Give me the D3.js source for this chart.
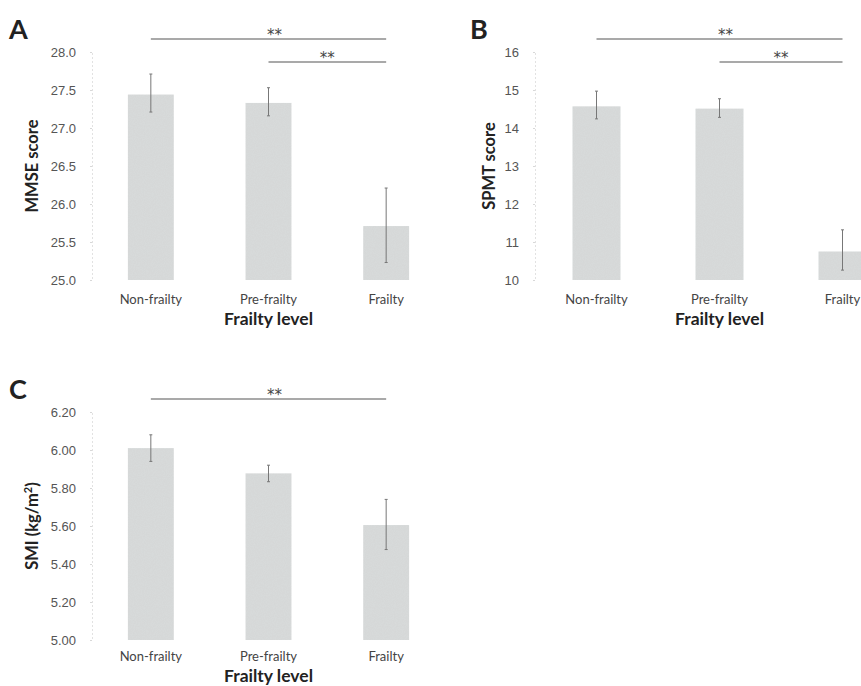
<!DOCTYPE html>
<html lang="en">
<head>
<meta charset="UTF-8">
<title>Frailty level charts</title>
<style>
  body { margin: 0; background: #fff; }
  svg { display: block; font-family: Lato, "Open Sans", sans-serif; }
</style>
</head>
<body>
<svg id="chart"></svg>
<script src="https://cdn.jsdelivr.net/npm/d3@7"></script>
<script>
const categories = ['Non-frailty', 'Pre-frailty', 'Frailty'];

// panel A - MMSE
const mmseMean = [27.44, 27.33, 25.71];
const mmseLow = [27.21, 27.16, 25.23];
const mmseHigh = [27.71, 27.53, 26.21];
const mmseTicks = [25.0, 25.5, 26.0, 26.5, 27.0, 27.5, 28.0];

// panel B - SPMT
const spmtMean = [14.57, 14.51, 10.75];
const spmtLow = [14.24, 14.28, 10.26];
const spmtHigh = [14.97, 14.77, 11.32];
const spmtTicks = [10, 11, 12, 13, 14, 15, 16];

// panel C - SMI
const smiMean = [6.01, 5.877, 5.605];
const smiLow = [5.94, 5.833, 5.476];
const smiHigh = [6.08, 5.92, 5.74];
const smiTicks = [5.0, 5.2, 5.4, 5.6, 5.8, 6.0, 6.2];

// significance brackets: [from index, to index, level]
const mmseSig = [[0, 2, 0], [1, 2, 1]];
const spmtSig = [[0, 2, 0], [1, 2, 1]];
const smiSig = [[0, 2, 0]];

const svg = d3.select('#chart').attr('width', 861).attr('height', 686);

function panel(opt) {
  const g = svg.append('g').attr('transform', `translate(${opt.x},${opt.y})`);

  const x = d3.scaleBand().domain(categories).range(opt.xr).paddingInner(0.61).paddingOuter(0.305);
  const y = d3.scaleLinear().domain(opt.domain).range([228, 0]);

  // faint axis line with tiny ticks
  const yAxis = d3.axisLeft(y).tickValues(opt.ticks).tickSize(2).tickPadding(14).tickFormat(d3.format(opt.fmt));
  const ax = g.append('g').attr('transform', `translate(${opt.xr[0]},0)`).call(yAxis);
  ax.select('.domain').attr('stroke', '#e2e2e2').attr('stroke-dasharray', '2,2');
  ax.selectAll('.tick line').attr('stroke', '#d8d8d8');
  ax.selectAll('.tick text').attr('fill', '#555').attr('font-size', 13);

  g.selectAll('rect.bar').data(opt.mean).join('rect')
    .attr('class', 'bar')
    .attr('x', (d, i) => x(categories[i]))
    .attr('width', x.bandwidth())
    .attr('y', d => y(d))
    .attr('height', d => y(opt.domain[0]) - y(d))
    .attr('fill', '#d9dcdc')
    .attr('filter', 'url(#grain)');

  const cx = i => x(categories[i]) + x.bandwidth() / 2;

  const eb = g.selectAll('g.err').data(opt.mean).join('g').attr('class', 'err')
    .attr('stroke', '#777').attr('stroke-width', 1);
  eb.append('line')
    .attr('x1', (d, i) => cx(i)).attr('x2', (d, i) => cx(i))
    .attr('y1', (d, i) => y(opt.low[i])).attr('y2', (d, i) => y(opt.high[i]));
  eb.append('line')
    .attr('x1', (d, i) => cx(i) - 1.5).attr('x2', (d, i) => cx(i) + 1.5)
    .attr('y1', (d, i) => y(opt.low[i])).attr('y2', (d, i) => y(opt.low[i]));
  eb.append('line')
    .attr('x1', (d, i) => cx(i) - 1.5).attr('x2', (d, i) => cx(i) + 1.5)
    .attr('y1', (d, i) => y(opt.high[i])).attr('y2', (d, i) => y(opt.high[i]));

  // category labels
  g.selectAll('text.cat').data(categories).join('text')
    .attr('class', 'cat')
    .attr('x', d => x(d) + x.bandwidth() / 2)
    .attr('y', opt.catY)
    .attr('text-anchor', 'middle')
    .attr('fill', '#444')
    .attr('font-size', 13)
    .text(d => d);

  g.append('text')
    .attr('x', x(categories[1]) + x.bandwidth() / 2)
    .attr('y', opt.titleY)
    .attr('text-anchor', 'middle')
    .attr('font-size', 17.5)
    .attr('font-weight', 'bold')
    .attr('fill', '#222')
    .text('Frailty level');

  const yt = g.append('text')
    .attr('transform', `translate(${opt.ytX},${114}) rotate(-90)`)
    .attr('text-anchor', 'middle')
    .attr('font-size', 16.5)
    .attr('font-weight', 'bold')
    .attr('fill', '#222');
  if (opt.ytSup) {
    yt.append('tspan').text(opt.yTitle);
    yt.append('tspan').attr('font-size', 11).attr('dy', -6).text(opt.ytSup);
    yt.append('tspan').attr('dy', 6).text(')');
  } else {
    yt.text(opt.yTitle);
  }

  // panel letter
  g.append('text')
    .attr('x', opt.letterX)
    .attr('y', -13)
    .attr('font-size', 27)
    .attr('font-weight', 'bold')
    .attr('fill', '#222')
    .text(opt.letter);

  // significance brackets
  opt.sig.forEach(s => {
    const ly = -13 + s[2] * 23;
    g.append('line')
      .attr('x1', cx(s[0])).attr('x2', cx(s[1]))
      .attr('y1', ly).attr('y2', ly)
      .attr('stroke', '#555').attr('stroke-width', 1.2);
    g.append('text')
      .attr('x', (cx(s[0]) + cx(s[1])) / 2 + (s[2] ? 0 : 6))
      .attr('y', ly + 1)
      .attr('text-anchor', 'middle')
      .attr('font-family', '"DejaVu Sans", sans-serif')
      .attr('font-size', 15)
      .attr('fill', '#444')
      .text('**');
  });
}

// subtle grain for the bars
const defs = svg.append('defs');
const f = defs.append('filter').attr('id', 'grain').attr('x', 0).attr('y', 0).attr('width', 1).attr('height', 1);
f.append('feTurbulence').attr('type', 'fractalNoise').attr('baseFrequency', 0.9).attr('numOctaves', 1).attr('result', 'n');
f.append('feColorMatrix').attr('in', 'n').attr('type', 'matrix')
  .attr('values', '0 0 0 0 0.5  0 0 0 0 0.5  0 0 0 0 0.5  0 0 0 0.18 0').attr('result', 'm');
f.append('feComposite').attr('in', 'm').attr('in2', 'SourceGraphic').attr('operator', 'in').attr('result', 'c');
f.append('feMerge').selectAll('feMergeNode').data(['SourceGraphic', 'c']).join('feMergeNode').attr('in', d => d);

panel({ x: 0, y: 52, xr: [92, 445], domain: [25, 28], ticks: mmseTicks, fmt: '.1f',
  mean: mmseMean, low: mmseLow, high: mmseHigh, sig: mmseSig,
  yTitle: 'MMSE score', ytX: 38, letter: 'A', letterX: 9, catY: 252, titleY: 273 });

panel({ x: 0, y: 52, xr: [535, 904], domain: [10, 16], ticks: spmtTicks, fmt: 'd',
  mean: spmtMean, low: spmtLow, high: spmtHigh, sig: spmtSig,
  yTitle: 'SPMT score', ytX: 495, letter: 'B', letterX: 470, catY: 252, titleY: 273 });

panel({ x: 0, y: 412, xr: [92, 445], domain: [5, 6.2], ticks: smiTicks, fmt: '.2f',
  mean: smiMean, low: smiLow, high: smiHigh, sig: smiSig,
  yTitle: 'SMI (kg/m', ytSup: '2', ytX: 38, letter: 'C', letterX: 9, catY: 249, titleY: 269.5 });
</script>
</body>
</html>
